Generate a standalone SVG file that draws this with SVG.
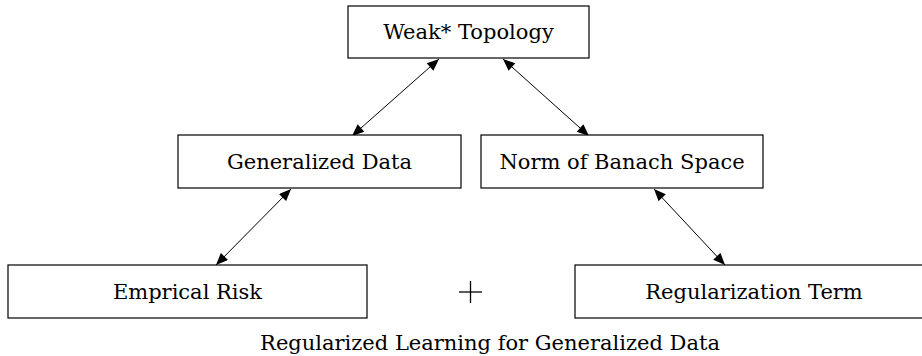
<svg xmlns="http://www.w3.org/2000/svg" width="922" height="356" viewBox="0 0 922 356">
<style>
.box{fill:#fff;stroke:#000;stroke-width:1.2}
.t{font-family:'DejaVu Serif',serif;font-size:21px;fill:#000;text-anchor:middle}
.c{stroke:#000;stroke-width:1;fill:none;marker-start:url(#ah);marker-end:url(#ah)}
</style>
<defs>
<marker id="ah" viewBox="0 0 12 10" refX="12" refY="5" markerWidth="13" markerHeight="10" markerUnits="userSpaceOnUse" orient="auto-start-reverse">
<path d="M0,0 L12,5 L0,10 z" fill="#000"/>
</marker>
</defs>
<rect width="922" height="356" fill="#fff"/>
<g id="connectors">
<line class="c" x1="352" y1="136" x2="439" y2="59"/>
<line class="c" x1="503" y1="59" x2="589" y2="136"/>
<line class="c" x1="216" y1="265" x2="291" y2="189"/>
<line class="c" x1="654" y1="189" x2="725" y2="265"/>
</g>
<g id="weak">
<rect class="box" x="348" y="6" width="241" height="52"/>
<text class="t" x="468.5" y="39">Weak* Topology</text>
</g>
<g id="gendata">
<rect class="box" x="178" y="135" width="283" height="53"/>
<text class="t" x="319.5" y="169">Generalized Data</text>
</g>
<g id="norm">
<rect class="box" x="481" y="135" width="282" height="53"/>
<text class="t" x="622" y="169">Norm of Banach Space</text>
</g>
<g id="risk">
<rect class="box" x="8" y="265" width="359" height="53"/>
<text class="t" x="187.5" y="299">Emprical Risk</text>
</g>
<g id="plus">
<line x1="459" y1="292" x2="482" y2="292" stroke="#000" stroke-width="1.3"/>
<line x1="470.5" y1="281" x2="470.5" y2="303" stroke="#000" stroke-width="1.3"/>
</g>
<g id="reg">
<rect class="box" x="575" y="265" width="358" height="53"/>
<text class="t" x="754" y="299">Regularization Term</text>
</g>
<g id="caption">
<text class="t" x="490" y="350">Regularized Learning for Generalized Data</text>
</g>
</svg>
